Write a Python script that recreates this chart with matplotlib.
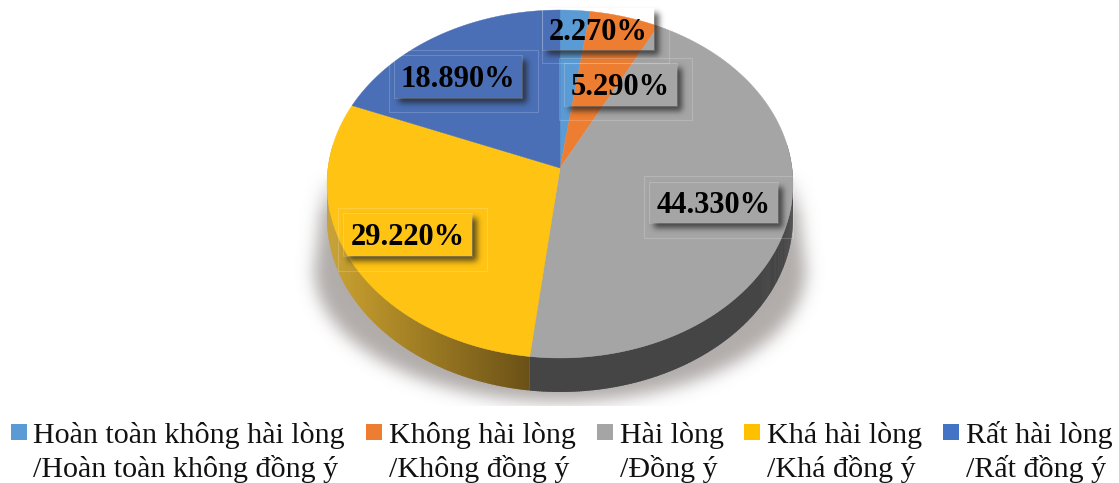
import numpy as np
import matplotlib
matplotlib.use('Agg')
import matplotlib.pyplot as plt
from matplotlib.patches import Polygon, Rectangle
from matplotlib.path import Path
import matplotlib.colors as mcolors

plt.rcParams['font.family'] = ['Liberation Serif', 'DejaVu Serif']

W, H = 1119, 483

values = [2.27, 5.29, 44.33, 29.22, 18.89]
colors = ['#5B9BD5', '#ED7D31', '#A5A5A5', '#FFC313', '#4A6FB6']
legend_colors = ['#5B9BD5', '#ED7D31', '#A5A5A5', '#FFC000', '#4472C4']
legend_top = ['Hoàn toàn không hài lòng', 'Không hài lòng', 'Hài lòng', 'Khá hài lòng', 'Rất hài lòng']
legend_bottom = ['/Hoàn toàn không đồng ý', '/Không đồng ý', '/Đồng ý', '/Khá đồng ý', '/Rất đồng ý']

# layout of the picture, pixels
CX, CY = 560, 168
RX, RY, K = 232, 172.5, 0.092
DEPTH = 34
legend_box_x = [11, 366, 597, 744, 943]
legend_text_x = [33, 389, 620, 767, 966]
# inner box, outer frame, one per value
label_boxes = [(542, 654, 8, 50), (564, 677, 63, 106), (649, 778, 182, 223), (343, 472, 213, 256), (394, 522, 55, 98)]
label_frames = [(542, 669, 8, 63), (559, 692, 58, 120), (644, 793, 176, 238), (338, 487, 208, 271), (389, 538, 50, 112)]


def project(a):
    # a is clockwise from the top, degrees; tilted disc seen in perspective
    t = np.radians(a)
    u, v = np.sin(t), np.cos(t)
    return CX + RX * u / (1 + K * v), CY - RY * v / (1 + K * v)


def blur(img, s):
    n = int(3 * s)
    g = np.exp(-0.5 * (np.arange(-n, n + 1) / s) ** 2)
    g /= g.sum()
    img = np.apply_along_axis(lambda r: np.convolve(r, g, mode='same'), 0, img)
    img = np.apply_along_axis(lambda r: np.convolve(r, g, mode='same'), 1, img)
    return img


def rgba_layer(alpha, color):
    rgb = mcolors.to_rgb(color)
    out = np.zeros((H, W, 4))
    out[..., :3] = rgb
    out[..., 3] = np.clip(alpha, 0, 1)
    return out


fig = plt.figure(figsize=(W / 100, H / 100), dpi=100)
ax = fig.add_axes([0, 0, 1, 1])
yy, xx = np.mgrid[0:H, 0:W]

# soft shadow under the pie
pts = np.column_stack([xx.ravel() + 0.5, yy.ravel() + 0.5])
t = np.linspace(0, np.pi, 120)
shadow_outline = np.vstack([[[326, 170]],
                            np.column_stack([560 - 246 * np.cos(t), 270 + 132 * np.sin(t)]),
                            [[794, 170]]])
mask = Path(shadow_outline).contains_points(pts).reshape(H, W).astype(float)
sh = blur(mask, 8)
sh *= np.clip((yy - 170) / 45, 0, 1) * 0.95
sh[yy > 405] = 0
ax.imshow(rgba_layer(sh, '#ADA8A6'), extent=(0, W, H, 0), interpolation='nearest', zorder=1)

# rim, drawn in short pieces so the yellow part can shade left to right
edges = np.cumsum([0] + values) * 3.6
rim_left = mcolors.to_rgb('#C9A02E')
rim_right = mcolors.to_rgb('#6A5016')
for i in range(len(values)):
    lo, hi = max(edges[i], 82), min(edges[i + 1], 278)
    if lo >= hi:
        continue
    steps = np.arange(lo, hi + 0.5, 0.5)
    for a0, a1 in zip(steps[:-1], steps[1:]):
        x0, y0 = project(a0)
        x1, y1 = project(min(a1 + 0.3, hi))
        if i == 2:
            c = '#454545'
        else:
            f = np.clip((((x0 + x1) / 2) - 335) / (530 - 335), 0, 1)
            c = tuple((1 - f) * np.array(rim_left) + f * np.array(rim_right))
        ax.add_patch(Polygon([(x0, y0), (x1, y1), (x1, y1 + DEPTH), (x0, y0 + DEPTH)],
                             closed=True, fc=c, ec='none', zorder=2))

# top of the pie
for i in range(len(values)):
    a = np.linspace(edges[i], edges[i + 1], 150)
    x, y = project(a)
    ax.add_patch(Polygon(np.vstack([[[CX, CY]], np.column_stack([x, y])]), closed=True,
                         fc=colors[i], ec=colors[i], lw=0.3, zorder=3))

# label boxes: clear inside, drop shadow outside only
shadow_alpha = np.zeros((H, W))
inside = np.zeros((H, W))
for x0, x1, y0, y1 in label_boxes:
    m = ((xx >= x0 + 5) & (xx < x1 + 5) & (yy >= y0 + 5) & (yy < y1 + 5)).astype(float)
    shadow_alpha = np.maximum(shadow_alpha, blur(m, 3))
    inside[(xx >= x0) & (xx < x1) & (yy >= y0) & (yy < y1)] = 1
shadow_alpha = shadow_alpha * (1 - inside) * 0.7
ax.imshow(rgba_layer(shadow_alpha, '#1A1A1A'), extent=(0, W, H, 0), interpolation='nearest', zorder=4)

for i, v in enumerate(values):
    x0, x1, y0, y1 = label_boxes[i]
    ax.add_patch(Rectangle((x0, y0), x1 - x0, y1 - y0, fc='none', ec='white', alpha=0.18, lw=0.8, zorder=5))
    fx0, fx1, fy0, fy1 = label_frames[i]
    ax.add_patch(Rectangle((fx0, fy0), fx1 - fx0, fy1 - fy0, fc='none', ec='white', alpha=0.18, lw=0.8, zorder=5))
    ax.text((x0 + x1) / 2, (y0 + y1) / 2 + 3, f'{v:.3f}%', ha='center', va='center',
            fontsize=22, fontweight='bold', color='black', zorder=6)

# legend
for i in range(len(values)):
    ax.add_patch(Rectangle((legend_box_x[i], 424), 16, 16, fc=legend_colors[i], ec='none', zorder=5))
    ax.text(legend_text_x[i], 443, legend_top[i], ha='left', va='baseline', fontsize=21.65, color='#111111')
    ax.text(legend_text_x[i], 477, legend_bottom[i], ha='left', va='baseline', fontsize=21.65, color='#111111')

ax.set_xlim(0, W)
ax.set_ylim(H, 0)
ax.axis('off')
fig.savefig('out.png', dpi=100, facecolor='white')
